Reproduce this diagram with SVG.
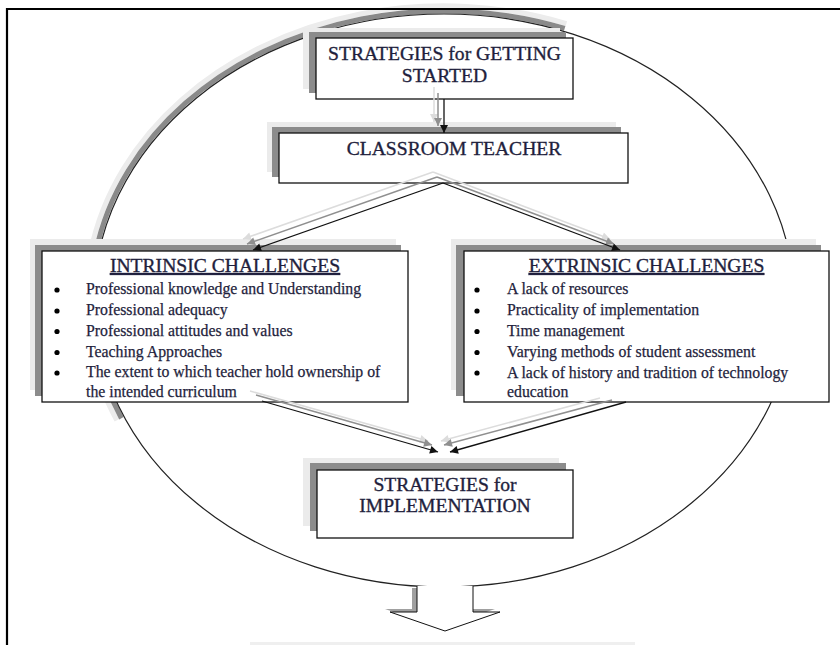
<svg xmlns="http://www.w3.org/2000/svg" width="840" height="645" viewBox="0 0 840 645">
<defs>
<style>
.box{fill:#fff;stroke:#111;stroke-width:1.3}
.sh1{fill:#8c8c8c}
.sh2{fill:#ebebeb}
.t{font-family:"Liberation Serif","Times New Roman",serif;fill:#1f1f3d;stroke:#1f1f3d;stroke-width:0.35}
.title{font-size:19.6px;text-anchor:middle}
.item{font-size:15.8px;stroke-width:0.25}
.bul{fill:#000}
.cb{stroke:#111;stroke-width:1.3;fill:none}
.cg{stroke:#8f8f8f;stroke-width:1.5;fill:none}
.cl{stroke:#dcdcdc;stroke-width:1.5;fill:none}
</style>
<marker id="mb" viewBox="0 0 10 10" refX="10" refY="5" markerWidth="9" markerHeight="8" markerUnits="userSpaceOnUse" orient="auto"><path d="M0,0 L10,5 L0,10 z" fill="#111"/></marker>
<marker id="mg" viewBox="0 0 10 10" refX="10" refY="5" markerWidth="9" markerHeight="8" markerUnits="userSpaceOnUse" orient="auto"><path d="M0,0 L10,5 L0,10 z" fill="#8f8f8f"/></marker>
<marker id="ml" viewBox="0 0 10 10" refX="10" refY="5" markerWidth="9" markerHeight="8" markerUnits="userSpaceOnUse" orient="auto"><path d="M0,0 L10,5 L0,10 z" fill="#dcdcdc"/></marker>
</defs>
<rect width="840" height="645" fill="#fff"/>

<g id="ellipse">
<path d="M566.4,23.7 A358,294.5 0 0 0 116.8,420.4" fill="none" stroke="#ececec" stroke-width="5"/>
<path d="M564.7,28.4 A353,289.5 0 0 0 121.4,418.3" fill="none" stroke="#8a8a8a" stroke-width="5"/>
<ellipse cx="444" cy="300.5" rx="350" ry="286.5" fill="none" stroke="#222" stroke-width="1.2"/>
</g>

<g id="output-arrow">
<path d="M412,588 V609 H385 L440,628 L495,609 H468 V588" fill="#a0a0a0"/>
<path d="M417,586 V612 H390 L445,631 L500,612 H473 V586" fill="#fff" stroke="#111" stroke-width="1"/>
<rect x="250" y="642" width="385" height="3" fill="#efefef"/>
</g>

<g id="getting-started">
<rect class="sh2" x="303" y="28" width="257" height="61"/>
<rect class="sh1" x="309" y="32" width="257" height="61"/>
<rect class="box" x="316" y="38" width="257" height="61"/>
<text class="t title" x="444.5" y="60">STRATEGIES for GETTING</text>
<text class="t title" x="444.5" y="82">STARTED</text>
</g>

<g id="classroom-teacher">
<rect class="sh2" x="267" y="122" width="349" height="50"/>
<rect class="sh1" x="272" y="127" width="349" height="50"/>
<rect class="box" x="279" y="133" width="349" height="50"/>
<text class="t title" x="454" y="154.5">CLASSROOM TEACHER</text>
</g>

<g id="intrinsic">
<rect class="sh2" x="30" y="239" width="366" height="151"/>
<rect class="sh1" x="35" y="245" width="366" height="151"/>
<rect class="box" x="42" y="251" width="366" height="151"/>
<text class="t title" x="225" y="272" text-decoration="underline">INTRINSIC CHALLENGES</text>
<g class="bul"><circle cx="57" cy="290" r="2.6"/><circle cx="57" cy="311" r="2.6"/><circle cx="57" cy="331.5" r="2.6"/><circle cx="57" cy="352.5" r="2.6"/><circle cx="57" cy="373" r="2.6"/></g>
<text class="t item" x="86" y="294.3">Professional knowledge and Understanding</text>
<text class="t item" x="86" y="315">Professional adequacy</text>
<text class="t item" x="86" y="335.5">Professional attitudes and values</text>
<text class="t item" x="86" y="356.5">Teaching Approaches</text>
<text class="t item" x="86" y="377">The extent to which teacher hold ownership of</text>
<text class="t item" x="86" y="396.7">the intended curriculum</text>
</g>

<g id="extrinsic">
<rect class="sh2" x="451" y="239" width="365" height="151"/>
<rect class="sh1" x="456" y="245" width="365" height="151"/>
<rect class="box" x="464" y="251" width="365" height="151"/>
<text class="t title" x="646.5" y="272" text-decoration="underline">EXTRINSIC CHALLENGES</text>
<g class="bul"><circle cx="477" cy="290" r="2.6"/><circle cx="477" cy="311" r="2.6"/><circle cx="477" cy="331.5" r="2.6"/><circle cx="477" cy="352.5" r="2.6"/><circle cx="477" cy="373" r="2.6"/></g>
<text class="t item" x="507" y="294.3">A lack of resources</text>
<text class="t item" x="507" y="315">Practicality of implementation</text>
<text class="t item" x="507" y="335.5">Time management</text>
<text class="t item" x="507" y="356.5">Varying methods of student assessment</text>
<text class="t item" x="507" y="377.5">A lack of history and tradition of technology</text>
<text class="t item" x="507" y="396.7">education</text>
</g>

<g id="implementation">
<rect class="sh2" x="303" y="458" width="256" height="68"/>
<rect class="sh1" x="310" y="463" width="256" height="68"/>
<rect class="box" x="317" y="470" width="256" height="68"/>
<text class="t title" x="445" y="491">STRATEGIES for</text>
<text class="t title" x="445" y="512">IMPLEMENTATION</text>
</g>

<g id="connectors">
<line class="cl" x1="434" y1="87" x2="434" y2="122" marker-end="url(#ml)"/>
<line class="cg" x1="438" y1="93" x2="438" y2="126" marker-end="url(#mg)"/>
<line class="cb" x1="444" y1="99" x2="444" y2="133" marker-end="url(#mb)"/>

<line class="cl" x1="433" y1="172" x2="243" y2="239" marker-end="url(#ml)"/>
<line class="cl" x1="433" y1="172" x2="610" y2="239" marker-end="url(#ml)"/>
<line class="cg" x1="437" y1="177" x2="247" y2="244" marker-end="url(#mg)"/>
<line class="cg" x1="437" y1="177" x2="614" y2="244" marker-end="url(#mg)"/>
<line class="cb" x1="443" y1="183" x2="253" y2="250" marker-end="url(#mb)"/>
<line class="cb" x1="443" y1="183" x2="620" y2="250" marker-end="url(#mb)"/>

<line class="cl" x1="250" y1="391" x2="428" y2="441" marker-end="url(#ml)"/>
<line class="cg" x1="256" y1="395" x2="432" y2="445" marker-end="url(#mg)"/>
<line class="cb" x1="262" y1="401" x2="438" y2="452" marker-end="url(#mb)"/>
<line class="cl" x1="600" y1="398" x2="441" y2="441" marker-end="url(#ml)"/>
<line class="cg" x1="612" y1="400" x2="444" y2="445" marker-end="url(#mg)"/>
<line class="cb" x1="626" y1="402" x2="450" y2="452" marker-end="url(#mb)"/>
</g>

<path id="frame" d="M7,645 V9 H840" fill="none" stroke="#000" stroke-width="2.2"/>
</svg>
